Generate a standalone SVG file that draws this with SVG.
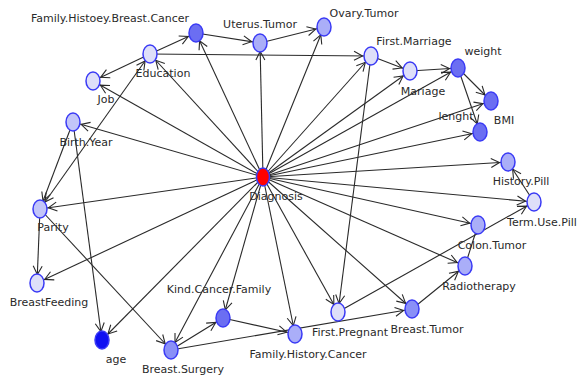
<svg xmlns="http://www.w3.org/2000/svg" width="584" height="377" viewBox="0 0 584 377">
<style>
.e{stroke:#2a2a2a;stroke-width:1.1;fill:none;marker-end:url(#ah)}
.n{stroke:#3a3af5;stroke-width:1.5}
.lt{fill:#dedff9}
.md{fill:#aaaef8}
.pa{fill:#c2c5f9}
.dk2{fill:#8a90f7}
.dk{fill:#6b6ef2}
.ag{fill:#1010f2}
.rd{fill:#ff0000}
text{font-family:"DejaVu Sans",sans-serif;font-size:11px;fill:#2a2a2a;text-anchor:middle}
</style>
<defs>
<marker id="ah" markerUnits="userSpaceOnUse" markerWidth="30" markerHeight="20" viewBox="-20 -10 30 20" refX="0" refY="0" orient="auto" overflow="visible">
<path d="M-17,-4.5 L-8.5,0 L-17,4.5" fill="none" stroke="#2a2a2a" stroke-width="1.1"/>
</marker>
<marker id="as" markerUnits="userSpaceOnUse" markerWidth="30" markerHeight="20" viewBox="-20 -10 30 20" refX="0" refY="0" orient="auto-start-reverse" overflow="visible">
<path d="M-17,-4.5 L-8.5,0 L-17,4.5" fill="none" stroke="#2a2a2a" stroke-width="1.1"/>
</marker>
</defs>
<g id="connectors">
<line class="e" x1="263" y1="177" x2="150" y2="54"/>
<line class="e" x1="263" y1="177" x2="93" y2="81"/>
<line class="e" x1="263" y1="177" x2="196" y2="33"/>
<line class="e" x1="263" y1="177" x2="260" y2="43"/>
<line class="e" x1="263" y1="177" x2="324" y2="27"/>
<line class="e" x1="263" y1="177" x2="371" y2="56"/>
<line class="e" x1="263" y1="177" x2="410" y2="71"/>
<line class="e" x1="263" y1="177" x2="458" y2="68"/>
<line class="e" x1="263" y1="177" x2="491" y2="101"/>
<line class="e" x1="263" y1="177" x2="480" y2="132"/>
<line class="e" x1="263" y1="177" x2="508" y2="162"/>
<line class="e" x1="263" y1="177" x2="534" y2="202"/>
<line class="e" x1="263" y1="177" x2="478" y2="225"/>
<line class="e" x1="263" y1="177" x2="465" y2="266"/>
<line class="e" x1="263" y1="177" x2="412" y2="309"/>
<line class="e" x1="263" y1="177" x2="338" y2="312"/>
<line class="e" x1="263" y1="177" x2="295" y2="334"/>
<line class="e" x1="263" y1="177" x2="223" y2="318"/>
<line class="e" x1="263" y1="177" x2="171" y2="350"/>
<line class="e" x1="263" y1="177" x2="102" y2="340"/>
<line class="e" x1="263" y1="177" x2="37" y2="283"/>
<line class="e" x1="263" y1="177" x2="40" y2="209"/>
<line class="e" x1="263" y1="177" x2="73" y2="122"/>
<line class="e" x1="150" y1="54" x2="196" y2="33"/>
<line class="e" x1="150" y1="54" x2="93" y2="81"/>
<line class="e" x1="150" y1="54" x2="371" y2="56"/>
<line class="e" x1="196" y1="33" x2="260" y2="43"/>
<line class="e" x1="260" y1="43" x2="324" y2="27"/>
<line class="e" x1="371" y1="56" x2="410" y2="71"/>
<line class="e" x1="410" y1="71" x2="458" y2="68"/>
<line class="e" x1="458" y1="68" x2="491" y2="101"/>
<line class="e" x1="458" y1="68" x2="480" y2="132"/>
<line class="e" x1="150" y1="54" x2="40" y2="209" marker-start="url(#as)"/>
<line class="e" x1="73" y1="122" x2="40" y2="209"/>
<line class="e" x1="73" y1="122" x2="102" y2="340"/>
<line class="e" x1="40" y1="209" x2="37" y2="283"/>
<line class="e" x1="40" y1="209" x2="171" y2="350"/>
<line class="e" x1="171" y1="350" x2="223" y2="318"/>
<line class="e" x1="223" y1="318" x2="295" y2="334"/>
<line class="e" x1="171" y1="350" x2="412" y2="309"/>
<line class="e" x1="338" y1="312" x2="534" y2="202"/>
<line class="e" x1="412" y1="309" x2="465" y2="266"/>
<line x1="478" y1="225" x2="465" y2="266" stroke="#2a2a2a" stroke-width="1.1"/>
<line class="e" x1="534" y1="202" x2="508" y2="162"/>
<line class="e" x1="371" y1="56" x2="338" y2="312"/>
</g>
<g id="node-family-histoey-breast-cancer"><ellipse class="n dk" cx="196" cy="33" rx="7" ry="9"/><text x="110" y="22">Family.Histoey.Breast.Cancer</text></g>
<g id="node-education"><ellipse class="n lt" cx="150" cy="54" rx="7" ry="9"/><text x="163" y="77">Education</text></g>
<g id="node-job"><ellipse class="n lt" cx="93" cy="81" rx="7" ry="9"/><text x="106" y="103">Job</text></g>
<g id="node-uterus-tumor"><ellipse class="n md" cx="260" cy="43" rx="7" ry="9"/><text x="260" y="28">Uterus.Tumor</text></g>
<g id="node-ovary-tumor"><ellipse class="n md" cx="324" cy="27" rx="7" ry="9"/><text x="364" y="17">Ovary.Tumor</text></g>
<g id="node-first-marriage"><ellipse class="n lt" cx="371" cy="56" rx="7" ry="9"/><text x="414" y="45">First.Marriage</text></g>
<g id="node-mariage"><ellipse class="n lt" cx="410" cy="71" rx="7" ry="9"/><text x="423" y="95">Mariage</text></g>
<g id="node-weight"><ellipse class="n dk" cx="458" cy="68" rx="7" ry="9"/><text x="483" y="55">weight</text></g>
<g id="node-bmi"><ellipse class="n dk" cx="491" cy="101" rx="7" ry="9"/><text x="504" y="124">BMI</text></g>
<g id="node-lenght"><ellipse class="n dk" cx="480" cy="132" rx="7" ry="9"/><text x="456" y="120">lenght</text></g>
<g id="node-birth-year"><ellipse class="n pa" cx="73" cy="122" rx="7" ry="9"/><text x="86" y="146">Birth.Year</text></g>
<g id="node-parity"><ellipse class="n pa" cx="40" cy="209" rx="7" ry="9"/><text x="53" y="231">Parity</text></g>
<g id="node-diagnosis"><ellipse class="n rd" cx="263" cy="177" rx="6.5" ry="9"/><text x="276" y="200">Diagnosis</text></g>
<g id="node-history-pill"><ellipse class="n md" cx="508" cy="162" rx="7" ry="9"/><text x="521" y="185">History.Pill</text></g>
<g id="node-term-use-pill"><ellipse class="n lt" cx="534" cy="202" rx="7" ry="9"/><text x="542" y="226">Term.Use.Pill</text></g>
<g id="node-colon-tumor"><ellipse class="n md" cx="478" cy="225" rx="7" ry="9"/><text x="492" y="249">Colon.Tumor</text></g>
<g id="node-radiotherapy"><ellipse class="n md" cx="465" cy="266" rx="7" ry="9"/><text x="479" y="290">Radiotherapy</text></g>
<g id="node-breast-tumor"><ellipse class="n dk2" cx="412" cy="309" rx="7" ry="9"/><text x="427" y="333">Breast.Tumor</text></g>
<g id="node-first-pregnant"><ellipse class="n lt" cx="338" cy="312" rx="7" ry="9"/><text x="350" y="336">First.Pregnant</text></g>
<g id="node-family-history-cancer"><ellipse class="n md" cx="295" cy="334" rx="7" ry="9"/><text x="308" y="358">Family.History.Cancer</text></g>
<g id="node-kind-cancer-family"><ellipse class="n dk" cx="223" cy="318" rx="7" ry="9"/><text x="219" y="293">Kind.Cancer.Family</text></g>
<g id="node-breast-surgery"><ellipse class="n dk2" cx="171" cy="350" rx="7" ry="9"/><text x="183" y="373">Breast.Surgery</text></g>
<g id="node-age"><ellipse class="n ag" cx="102" cy="340" rx="7" ry="9"/><text x="116" y="363">age</text></g>
<g id="node-breastfeeding"><ellipse class="n lt" cx="37" cy="283" rx="7" ry="9"/><text x="49" y="306">BreastFeeding</text></g>
</svg>
